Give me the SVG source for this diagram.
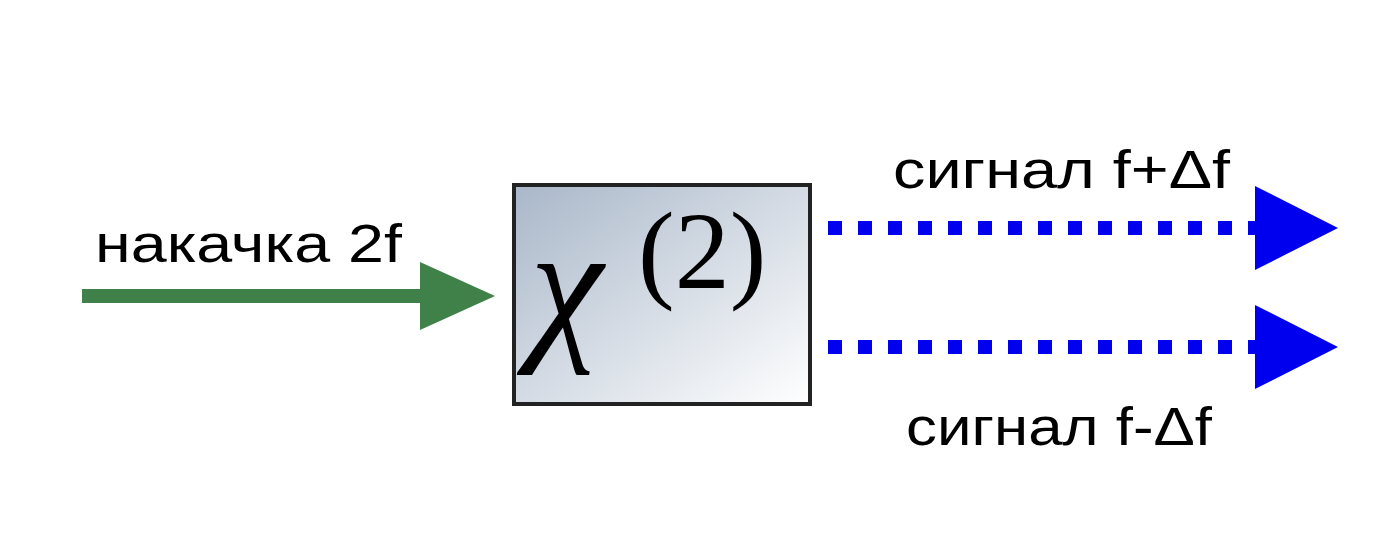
<svg xmlns="http://www.w3.org/2000/svg" width="1400" height="549" viewBox="0 0 1400 549">
<defs>
<linearGradient id="g" x1="0" y1="0" x2="1" y2="1"><stop offset="0" stop-color="#a9b7c9"/><stop offset="1" stop-color="#ffffff"/></linearGradient>
<style>.t{font-family:"Liberation Sans",Arial,sans-serif;font-size:54px;fill:#000}</style>
</defs>
<rect width="1400" height="549" fill="#fff"/>
<g id="box"><rect x="514" y="185" width="296" height="219" fill="url(#g)" stroke="#222" stroke-width="4"/>
<text x="530" y="340" font-family="Liberation Serif,serif" font-style="italic" font-size="165">χ</text>
<text x="638" y="288" font-family="Liberation Serif,serif" font-size="110">(2)</text></g>
<g id="connectors">
<line x1="82" y1="296" x2="430" y2="296" stroke="#3f8148" stroke-width="14"/>
<polygon points="420,262 495,296 420,330" fill="#3f8148"/>
<line x1="828" y1="228" x2="1258" y2="228" stroke="#0000ee" stroke-width="14" stroke-dasharray="14,16"/>
<polygon points="1255,186 1338,228 1255,270" fill="#0000ee"/>
<line x1="828" y1="347" x2="1258" y2="347" stroke="#0000ee" stroke-width="14" stroke-dasharray="14,16"/>
<polygon points="1255,305 1338,347 1255,389" fill="#0000ee"/>
</g>
<text class="t" x="95" y="262" textLength="307" lengthAdjust="spacingAndGlyphs">накачка 2f</text>
<text class="t" x="893" y="188" textLength="337" lengthAdjust="spacingAndGlyphs">сигнал f+Δf</text>
<text class="t" x="906" y="445" textLength="306" lengthAdjust="spacingAndGlyphs">сигнал f-Δf</text>
</svg>
